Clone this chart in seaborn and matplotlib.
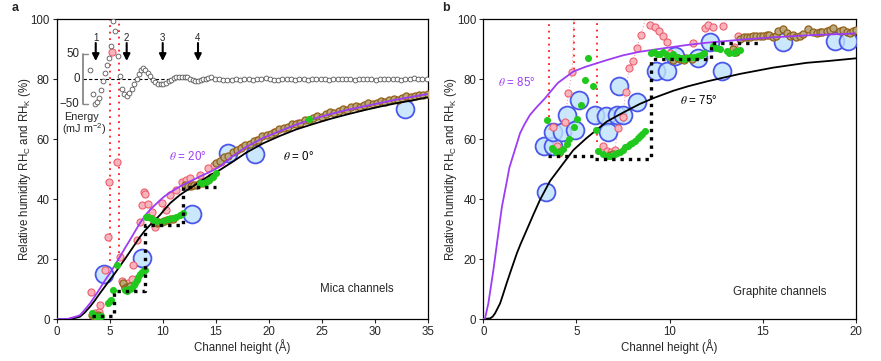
import matplotlib
matplotlib.use("Agg")
import matplotlib.pyplot as plt
import seaborn as sns
from matplotlib.colors import to_rgba

# ---------------- Panel a (mica) ----------------
curve_a_x = [0, 1.0, 1.5, 1.9, 2.2, 2.6, 3.14, 3.6, 4.08, 4.5, 5.0, 5.5, 5.97, 6.4, 6.9, 7.4,
             7.86, 8.3, 8.8, 9.3, 9.75, 10.2, 10.7, 11.2, 11.6, 12.1, 12.6, 13.5, 14.5, 15.4,
             16.6, 17.9, 19.5, 21.1, 22.6, 24.2, 25.8, 27.4, 29.0, 30.5, 32.0, 33.6, 35]
theta0_y = [0, 0, 0.2, 0.5, 0.8, 2.0, 4.1, 6.2, 8.6, 10.6, 13.0, 15.3, 17.7, 19.8, 22.4, 25.0,
            27.4, 29.4, 31.3, 33.1, 34.7, 36.6, 38.6, 40.1, 41.3, 42.5, 43.6, 45.8, 48.0, 49.7,
            52.4, 55.5, 58.6, 61.1, 63.2, 65.0, 66.7, 68.2, 69.6, 70.8, 71.9, 72.9, 73.9]
theta20_y = [0, 0, 0.5, 0.9, 1.3, 2.9, 5.2, 7.6, 10.2, 12.6, 15.2, 18.0, 20.8, 23.4, 26.3, 29.3,
             32.0, 34.3, 36.4, 38.1, 39.6, 41.0, 42.2, 43.3, 44.1, 45.0, 45.9, 47.5, 49.1, 50.8,
             54.3, 57.4, 60.4, 62.7, 64.8, 66.7, 68.3, 69.7, 70.9, 72.0, 73.1, 74.1, 75.0]

pink_a_x = [3.2, 3.6, 3.96, 4.08, 4.56, 4.84, 4.9, 5.2, 5.72, 5.97, 6.13, 6.35, 6.76, 7.07, 7.23,
            7.55, 7.86, 8.0, 8.24, 8.33, 8.64, 8.87, 8.96, 9.18, 9.27, 9.9, 10.3, 10.7, 11.3,
            11.8, 12.2, 12.58, 13.5, 14.3, 14.8, 15.5, 17.5, 18.9, 20.5, 22.8]
pink_a_y = [9.1, 2.0, 2.4, 4.7, 16.3, 27.2, 45.6, 88.9, 52.2, 20.8, 12.7, 11.3, 11.9, 13.2, 18.0,
            26.3, 32.4, 38.0, 42.4, 41.7, 38.3, 34.1, 35.8, 32.4, 30.8, 38.6, 36.5, 41.3, 43.0,
            45.8, 46.3, 46.9, 48.0, 50.2, 51.3, 52.5, 57.5, 59.7, 62.5, 65.2]

brown_a_x = [3.3, 3.5, 3.7, 3.9, 4.1, 6.28, 6.45, 6.6, 6.75, 6.9, 9.43, 9.6, 9.9, 10.1, 10.4,
             10.7, 11.0, 12.1, 12.4, 12.7, 13.0, 13.2, 13.5, 13.8, 14.3, 14.6,
             15.0, 15.4, 15.8, 16.2, 16.6, 17.0, 17.4, 17.8, 18.2, 18.6, 19.0, 19.4, 19.8, 20.2,
             20.6, 21.0, 21.4, 21.8, 22.2, 22.6, 23.0, 23.4, 23.8, 24.2, 24.6, 25.0, 25.4, 25.8,
             26.2, 26.6, 27.0, 27.4, 27.8, 28.2, 28.6, 29.0, 29.4, 29.8, 30.2, 30.6, 31.0, 31.4,
             31.8, 32.2, 32.6, 33.0, 33.4, 33.8, 34.2, 34.6, 35.0]
brown_a_y = [1.3, 1.0, 0.8, 1.2, 0.9, 11.9, 10.5, 10.8, 10.2, 11.0, 31.9, 32.2, 32.4, 32.6, 33.0,
             33.3, 33.5, 44.7, 44.5, 44.3, 44.8, 44.7, 45.2, 45.5, 46.3, 47.5,
             52.0, 52.8, 53.9, 54.4, 55.6, 56.3, 56.9, 57.9, 58.4, 59.5, 59.8, 60.9, 61.3, 61.6,
             62.5, 63.4, 63.6, 64.1, 64.9, 65.0, 65.4, 66.2, 66.3, 66.9, 67.6, 67.5, 68.2, 68.9,
             68.8, 69.4, 70.1, 69.8, 70.6, 71.1, 70.7, 71.5, 71.9, 71.6, 72.1, 72.6, 72.4, 73.0,
             73.4, 73.1, 73.7, 74.2, 73.9, 74.5, 74.8, 74.6, 75.0]

green_a_x = [3.3, 3.5, 3.75, 4.0, 4.2, 4.87, 5.0, 5.13, 5.28, 5.72, 6.44, 6.6, 6.76, 6.9, 7.07,
             7.25, 7.39, 7.55, 7.7, 7.85, 8.02, 8.2, 8.33, 8.42, 8.55, 8.65, 8.85, 9.1, 9.4,
             10.0, 10.5, 11.0, 11.3, 11.6, 11.9, 13.5, 13.8, 14.1, 14.4, 14.7, 15.0, 23.8]
green_a_y = [1.9, 1.2, 1.0, 0.8, 1.0, 5.2, 6.0, 6.3, 9.7, 18.0, 9.7, 9.5, 9.9, 10.1, 10.4,
             11.2, 11.9, 13.0, 14.1, 15.0, 15.8, 16.3, 16.3, 34.1, 34.0, 34.1, 33.6, 33.0, 32.6,
             32.8, 33.2, 33.6, 34.0, 34.7, 35.2, 45.2, 45.5, 45.8, 46.5, 47.5, 48.6, 66.6]

blue_a_x = [4.46, 8.08, 12.74, 16.2, 18.7, 32.9]
blue_a_y = [15.0, 20.2, 34.9, 55.2, 55.0, 70.0]

step_a_x = [3.3, 5.4, 5.4, 8.3, 8.3, 11.9, 11.9, 15.0]
step_a_y = [1.0, 1.0, 9.4, 9.4, 31.2, 31.2, 44.0, 44.0]

red_a_x = [5.0, 5.9]
red_a_ymin = [19.5, 22.0]
red_a_ymax = [100, 100]

# inset: energy (mJ m^-2) vs channel height
energy_x = [3.17, 3.4, 3.58, 3.77, 3.96, 4.15, 4.34, 4.53, 4.72, 4.9, 5.1, 5.28, 5.53, 5.75,
            5.97, 6.16, 6.38, 6.6, 6.85, 7.1, 7.32, 7.55, 7.76, 7.98, 8.17, 8.36, 8.58, 8.8,
            9.06, 9.3, 9.56, 9.81, 10.06, 10.3, 10.56, 10.8, 11.07, 11.3, 11.57, 11.8, 12.07,
            12.3, 12.57, 12.83, 13.08, 13.3, 13.6, 13.8, 14.08, 14.3, 14.6,
            14.9, 15.3, 15.7, 16.1, 16.5, 16.9, 17.3, 17.7, 18.1, 18.5, 18.9, 19.3, 19.7, 20.1,
            20.5, 20.9, 21.3, 21.7, 22.1, 22.5, 22.9, 23.3, 23.7, 24.1, 24.5, 24.9, 25.3, 25.7,
            26.1, 26.5, 26.9, 27.3, 27.7, 28.1, 28.5, 28.9, 29.3, 29.7, 30.1, 30.5, 30.9, 31.3,
            31.7, 32.1, 32.5, 32.9, 33.3, 33.7, 34.1, 34.5, 34.9]
energy_y = [18, -29, -50, -45, -37, -21, -4, 13, 29, 43, 66, 117, 97, 46,
            6, -19, -30, -33, -27, -19, -9, 1, 11, 19, 23, 19, 13, 6,
            -1, -5, -9, -10, -9, -7, -4, -1, 2, 4, 5, 5, 5,
            4, 1, -1, -3, -3, -1, 0, 1, 2, 4,
            1, 0, -1, -2, -1, 0, -1, 0, 1, -1, 0, 0, 2, 0,
            -1, -1, 0, 1, 0, -1, 0, 0, -1, 1, 0, 0, 1, -1,
            0, 0, 1, 0, 0, -1, 0, 0, 1, 0, -1, 0, 0, 1,
            0, 0, -1, 1, 0, 2, 1, 0, 0]
arrow_x = [3.68, 6.6, 10.0, 13.33]
arrow_labels = ["1", "2", "3", "4"]

# ---------------- Panel b (graphite) ----------------
theta85_x = [0, 0.09, 0.27, 0.54, 0.9, 1.0, 1.25, 1.4, 1.6, 1.8, 1.97, 2.2, 2.5, 2.86, 3.3,
             3.58, 4.0, 4.83, 5.5, 6.62, 7.5, 8.4, 9.84, 11.0, 12.0, 14.0, 15.56, 17.5, 20]
theta85_y = [0, 0.2, 5.2, 16.3, 33.0, 37.5, 45.5, 50.5, 54.5, 58.5, 61.9, 64.8, 68.0, 70.6,
             73.5, 75.6, 78.7, 82.5, 84.1, 86.3, 87.9, 89.1, 90.4, 91.4, 92.1, 93.2, 93.9,
             94.6, 95.2]
theta75_x = [0, 0.36, 0.5, 0.63, 0.9, 1.05, 1.25, 1.5, 1.8, 2.0, 2.33, 2.7, 3.04, 3.58, 4.1,
             4.83, 5.5, 6.62, 7.5, 8.4, 9.2, 10.2, 11.0, 12.0, 13.77, 15.56, 17.35, 18.5, 20]
theta75_y = [0, 0.2, 0.8, 1.9, 5.2, 8.0, 11.9, 16.5, 21.9, 25.0, 29.7, 35.0, 39.7, 46.0, 50.3,
             56.3, 60.1, 65.8, 68.8, 71.7, 73.8, 76.1, 77.6, 79.2, 81.7, 83.8, 85.4, 86.0, 86.9]

blue_b_x = [3.35, 3.27, 3.76, 3.76, 4.2, 4.51, 4.92, 5.15, 5.99, 6.57, 6.71, 7.16, 7.51, 7.28,
            8.23, 9.27, 9.84, 10.28, 11.53, 12.16, 12.79, 16.1, 18.87, 19.58]
blue_b_y = [42.4, 57.8, 57.8, 62.4, 62.4, 68.0, 62.9, 73.0, 68.0, 67.7, 62.4, 68.0, 68.0, 77.7,
            72.4, 82.8, 82.7, 87.7, 87.1, 92.2, 82.8, 92.2, 92.8, 92.8]

green_b_x = [3.43, 3.67, 3.76, 3.9, 4.11, 4.29, 4.47, 4.62, 4.87, 5.04, 5.22, 5.46, 5.87, 5.63,
             6.03, 6.17, 6.44, 6.62, 6.8, 7.06, 7.2, 7.33, 7.47, 7.6, 7.74, 7.87, 8.0, 8.14,
             8.28, 8.41, 8.54, 8.67, 8.98, 9.15, 9.3, 9.48, 9.66, 9.84, 10.0, 10.19, 10.4, 10.6,
             10.75, 10.9, 11.1, 11.3, 11.5, 11.7, 11.85, 12.34, 12.5, 12.7, 13.06, 13.2, 13.45,
             13.6, 13.8]
green_b_y = [66.3, 56.9, 56.7, 55.8, 55.6, 56.7, 58.3, 60.0, 63.9, 66.7, 71.3, 79.8, 77.8, 86.9,
             63.0, 56.1, 55.0, 54.4, 54.4, 55.0, 55.4, 55.8, 56.5, 57.2, 57.8, 58.3, 58.8, 59.4,
             60.2, 60.9, 61.8, 62.8, 88.8, 88.9, 88.5, 88.2, 88.9, 88.0, 87.4, 88.3, 87.2, 86.9,
             86.7, 87.0, 87.2, 87.5, 87.6, 88.0, 88.6, 91.1, 90.5, 90.0, 89.4, 88.6, 88.8,
             89.4, 89.7]

pink_b_x = [3.75, 3.96, 4.05, 4.36, 4.56, 4.77, 6.44, 6.62, 6.83, 7.06, 7.24, 7.48, 7.64, 7.83,
            8.05, 8.23, 8.46, 8.94, 9.2, 9.44, 9.66, 9.84, 10.0, 11.25, 11.9, 12.08, 12.34,
            12.84, 13.68, 13.45]
pink_b_y = [63.9, 57.6, 55.3, 65.8, 75.3, 82.4, 57.8, 56.1, 55.6, 56.4, 63.6, 67.2, 75.8, 83.6,
            86.1, 90.4, 94.7, 98.0, 97.3, 96.0, 94.2, 92.2, 88.8, 91.9, 96.9, 98.0, 97.3,
            97.8, 94.3, 90.8]
pink_b_line1_x = [3.96, 4.36, 4.56, 4.77, 4.86]
pink_b_line1_y = [57.6, 65.8, 75.3, 82.4, 100]
pink_b_line2_x = [7.06, 7.24, 7.48, 7.64, 7.83, 8.05, 8.23, 8.46, 8.7]
pink_b_line2_y = [56.4, 63.6, 67.2, 75.8, 83.6, 86.1, 90.4, 94.7, 100]

brown_b_x = [4.06, 6.8, 6.95, 10.2, 10.46, 10.56, 10.75, 10.9, 11.2, 13.41, 13.54, 13.8, 14.0,
             14.13, 14.3, 14.49, 14.65, 14.84, 15.0, 15.2, 15.35, 15.56, 15.7, 15.83, 16.1,
             16.3, 16.45, 16.6, 16.8, 17.0, 17.17, 17.44, 17.7, 17.9, 18.06, 18.2, 18.42, 18.6,
             18.78, 19.14, 19.3, 19.5, 19.7, 19.85, 20.0]
brown_b_y = [55.6, 54.7, 55.0, 86.3, 86.9, 86.6, 86.5, 86.9, 86.6, 90.0, 89.1, 93.5, 94.0,
             93.9, 94.1, 94.2, 94.5, 94.4, 94.3, 94.7, 94.6, 93.9, 94.2, 96.1, 96.7,
             95.2, 94.4, 94.6, 93.9, 94.3, 95.0, 96.7, 95.8, 95.2, 95.6, 95.8, 96.1, 96.3,
             96.9, 96.1, 96.4, 95.6, 95.2, 96.1, 96.3]

step_b_x = [3.45, 6.0, 6.0, 9.0, 9.0, 12.2, 12.2, 14.85]
step_b_y = [54.3, 54.3, 53.5, 53.5, 86.6, 86.6, 92.0, 92.0]

red_b_x = [3.53, 4.84, 6.1]
red_b_ymin = [63.0, 81.0, 59.0]
red_b_ymax = [100, 100, 100]

# ---------------- style ----------------
sns.set_style("ticks")
plt.rcParams['font.family'] = ['Liberation Sans', 'DejaVu Sans']
plt.rcParams['mathtext.fontset'] = 'custom'
plt.rcParams['mathtext.rm'] = 'Liberation Sans'
plt.rcParams['mathtext.it'] = 'Liberation Sans:italic'
plt.rcParams['mathtext.bf'] = 'Liberation Sans:bold'
plt.rcParams['axes.unicode_minus'] = True

FS = 8.3
PURPLE = '#9d3cf5'
PINK_F, PINK_E = '#f8b4bc', '#ee5f6e'
BROWN_F, BROWN_E = '#b7a980', '#946018'
GREEN = '#21c81e'
BLUE_F, BLUE_E = '#bfe1fb', '#4b57ea'
RED = '#ff1a1a'

fig = plt.figure(figsize=(8.81, 3.61), dpi=100)
ax_a = fig.add_axes([0.0644, 0.1163, 0.421, 0.831])
ax_b = fig.add_axes([0.5486, 0.1163, 0.423, 0.831])


def scat(ax, xs, ys, s, face, edge, lw, z, face_alpha=None):
    sns.scatterplot(x=xs, y=ys, ax=ax, s=s, color=face, edgecolor=edge, linewidth=lw,
                    zorder=z, legend=False)
    coll = ax.collections[-1]
    if face_alpha is not None:
        coll.set_facecolor(to_rgba(face, face_alpha))
    coll.set_edgecolor(edge)
    coll.set_zorder(z)


def line(ax, xs, ys, color, lw, z, ls='-', alpha=1.0):
    sns.lineplot(x=xs, y=ys, ax=ax, color=color, lw=lw, sort=False, estimator=None,
                 zorder=z, linestyle=ls, alpha=alpha)


def style_axes(ax, xmax, xticks):
    ax.set_xlim(0, xmax)
    ax.set_ylim(0, 100)
    ax.set_xticks(xticks)
    ax.set_yticks([0, 20, 40, 60, 80, 100])
    ax.tick_params(axis='both', direction='out', length=3, width=0.8, labelsize=FS,
                   pad=2, top=False, right=False)
    for sp in ax.spines.values():
        sp.set_linewidth(0.9)
        sp.set_color('black')
    ax.set_xlabel('Channel height (Å)', fontsize=FS, labelpad=1)
    ax.set_ylabel('Relative humidity RH$_{\\mathregular{C}}$ and RH$_{\\mathregular{K}}$ (%)',
                  fontsize=FS, labelpad=-1.5)


# ---- panel a ----
ax = ax_a
ax.vlines(red_a_x, red_a_ymin, red_a_ymax, colors=RED, linestyles=(0, (1, 2.6)), lw=1.3, zorder=1.5)
line(ax, curve_a_x, theta0_y, 'black', 1.3, 5.5)
line(ax, curve_a_x, theta20_y, PURPLE, 1.3, 5.6)
scat(ax, blue_a_x, blue_a_y, 165, BLUE_F, BLUE_E, 1.3, 3, face_alpha=0.8)
scat(ax, pink_a_x, pink_a_y, 26, PINK_F, PINK_E, 0.8, 4)
scat(ax, brown_a_x, brown_a_y, 26, BROWN_F, BROWN_E, 0.9, 5)
scat(ax, green_a_x, green_a_y, 26, GREEN, GREEN, 0, 6)
line(ax, step_a_x, step_a_y, 'black', 2.4, 7, ls=(0, (1, 1.5)))
style_axes(ax, 35, [0, 5, 10, 15, 20, 25, 30, 35])
ax.text(12.4, 54.3, '$\\theta$ = 20°', color=PURPLE, fontsize=FS, ha='center', va='center',
        math_fontfamily='stix')
ax.text(22.8, 54.3, '$\\theta$ = 0°', color='black', fontsize=FS, ha='center', va='center',
        math_fontfamily='stix')
ax.text(24.8, 9.9, 'Mica channels', fontsize=FS, ha='left', va='center')

# inset energy profile on a twin axis
ax_e = ax.twinx()
ax_e.set_ylim(-480, 120)
ax_e.set_xlim(0, 35)
ax_e.axis('off')
ax_e.plot([2.45, 35], [0, 0], color='black', lw=0.8, ls=(0, (3, 2)), zorder=1)
scat(ax_e, energy_x, energy_y, 12, 'white', '#555555', 0.6, 3)
ax_e.plot([2.45, 2.45], [-50, 50], color='#888888', lw=1.3, zorder=2)
ax_e.plot([2.45, 2.98], [50, 50], color='#888888', lw=1.0, zorder=2)
ax_e.plot([2.45, 2.98], [-50, -50], color='#888888', lw=1.0, zorder=2)
ax_e.text(2.15, 50, '50', fontsize=FS, ha='right', va='center')
ax_e.text(2.15, 0, '0', fontsize=FS, ha='right', va='center')
ax_e.text(2.15, -50, '\u221250', fontsize=FS, ha='right', va='center')
ax_e.text(2.3, -76, 'Energy', fontsize=7.8, ha='center', va='center')
ax_e.text(2.6, -101, '(mJ m$^{\\mathregular{\u22122}}$)', fontsize=7.8, ha='center', va='center')
for xa, lab in zip(arrow_x, arrow_labels):
    ax_e.annotate('', xy=(xa, 36), xytext=(xa, 72),
                  arrowprops=dict(arrowstyle='-|>', color='black', lw=1.5,
                                  mutation_scale=10, shrinkA=0, shrinkB=0))
    ax_e.text(xa, 83, lab, fontsize=7, ha='center', va='center')

# ---- panel b ----
ax = ax_b
ax.vlines(red_b_x, red_b_ymin, red_b_ymax, colors=RED, linestyles=(0, (1, 2.6)), lw=1.3, zorder=1.5)
line(ax, pink_b_line1_x, pink_b_line1_y, PINK_E, 0.8, 1.6, ls=(0, (1, 2)), alpha=0.6)
line(ax, pink_b_line2_x, pink_b_line2_y, PINK_E, 0.8, 1.6, ls=(0, (1, 2)), alpha=0.6)
line(ax, theta75_x, theta75_y, 'black', 1.3, 5.5)
line(ax, theta85_x, theta85_y, PURPLE, 1.3, 5.6)
scat(ax, blue_b_x, blue_b_y, 165, BLUE_F, BLUE_E, 1.3, 3, face_alpha=0.8)
scat(ax, pink_b_x, pink_b_y, 26, PINK_F, PINK_E, 0.8, 4)
scat(ax, brown_b_x, brown_b_y, 26, BROWN_F, BROWN_E, 0.9, 5)
scat(ax, green_b_x, green_b_y, 26, GREEN, GREEN, 0, 6)
line(ax, step_b_x, step_b_y, 'black', 2.4, 7, ls=(0, (1, 1.5)))
style_axes(ax, 20, [0, 5, 10, 15, 20])
ax.text(0.8, 78.8, '$\\theta$ = 85°', color=PURPLE, fontsize=FS, ha='left', va='center',
        math_fontfamily='stix')
ax.text(10.55, 72.7, '$\\theta$ = 75°', color='black', fontsize=FS, ha='left', va='center',
        math_fontfamily='stix')
ax.text(13.38, 9.1, 'Graphite channels', fontsize=FS, ha='left', va='center')

fig.text(15 / 881, 1 - 8 / 361, 'a', fontsize=9, weight='bold', ha='center', va='center')
fig.text(446 / 881, 1 - 8 / 361, 'b', fontsize=9, weight='bold', ha='center', va='center')

fig.savefig('out.png', dpi=100)
